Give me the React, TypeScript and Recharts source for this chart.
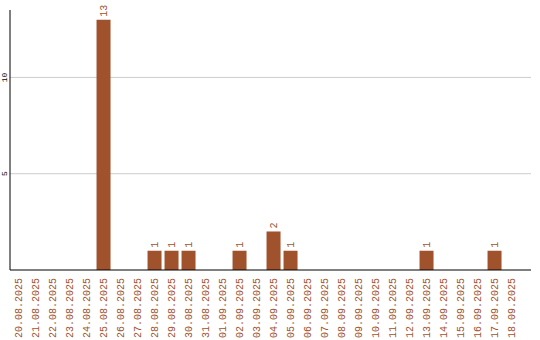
import { BarChart, Bar, XAxis, YAxis, CartesianGrid, LabelList } from "recharts";

const dates = [
  "20.08.2025", "21.08.2025", "22.08.2025", "23.08.2025", "24.08.2025",
  "25.08.2025", "26.08.2025", "27.08.2025", "28.08.2025", "29.08.2025",
  "30.08.2025", "31.08.2025", "01.09.2025", "02.09.2025", "03.09.2025",
  "04.09.2025", "05.09.2025", "06.09.2025", "07.09.2025", "08.09.2025",
  "09.09.2025", "10.09.2025", "11.09.2025", "12.09.2025", "13.09.2025",
  "14.09.2025", "15.09.2025", "16.09.2025", "17.09.2025", "18.09.2025",
];
const counts = [
  0, 0, 0, 0, 0, 13, 0, 0, 1, 1,
  1, 0, 0, 1, 0, 2, 1, 0, 0, 0,
  0, 0, 0, 0, 1, 0, 0, 0, 1, 0,
];
const yTicks = [5, 10];

const data = dates.map((d, i) => ({ date: d, count: counts[i] }));

const BROWN = "#a0522d";
const FONT = "'Liberation Mono', monospace";

function DateTick(props: any) {
  const { x, y, payload } = props;
  return (
    <g transform={`translate(${x},${y}) rotate(-90)`}>
      <text textAnchor="end" dy="0.35em" fill={BROWN} fontSize={10} fontFamily={FONT}>
        {payload.value}
      </text>
    </g>
  );
}

function CountTick(props: any) {
  const { y, payload } = props;
  return (
    <g transform={`translate(4,${y}) rotate(-90)`}>
      <text textAnchor="middle" dy="0.35em" fill="#000" fontSize={8} fontFamily={FONT}>
        {payload.value}
      </text>
    </g>
  );
}

function TopLabel(props: any) {
  const { x, y, width, value } = props;
  if (!value) return null;
  return (
    <g transform={`translate(${x + width / 2},${y - 3}) rotate(-90)`}>
      <text textAnchor="start" dy="0.35em" fill={BROWN} fontSize={10} fontFamily={FONT}>
        {value}
      </text>
    </g>
  );
}

export default function App() {
  return (
    <div style={{ position: "absolute", left: 0, top: 0, width: 540, height: 340, background: "#fff" }}>
      <BarChart
        width={540}
        height={340}
        data={data}
        margin={{ top: 10, right: 9, bottom: 0, left: 0 }}
        barCategoryGap="9%"
      >
        <CartesianGrid vertical={false} horizontalValues={yTicks} stroke="#cccccc" />
        <XAxis
          dataKey="date"
          interval={0}
          tickLine={false}
          axisLine={{ stroke: "#000" }}
          tick={<DateTick />}
          height={70}
          padding={{ left: 0, right: 11 }}
        />
        <YAxis
          width={10}
          domain={[0, 13.5]}
          ticks={yTicks}
          tickLine={false}
          axisLine={{ stroke: "#000" }}
          tick={<CountTick />}
        />
        <Bar dataKey="count" fill={BROWN} isAnimationActive={false}>
          <LabelList dataKey="count" content={<TopLabel />} />
        </Bar>
      </BarChart>
    </div>
  );
}
